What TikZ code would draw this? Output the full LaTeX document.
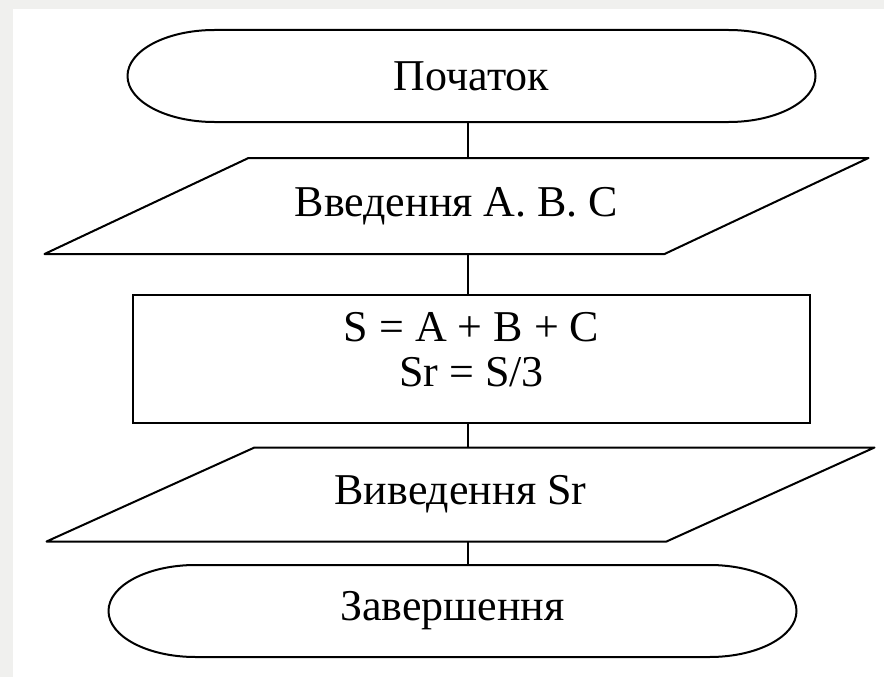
\documentclass[tikz,border=0pt]{standalone}
\usepackage{fontspec}
\setmainfont{Liberation Serif}
\usetikzlibrary{positioning}

\definecolor{pagegray}{HTML}{F0F0EE}

% outline of a start/stop block: straight top and bottom, half-ellipse ends
\newcommand\termoutline[1]{%
  \draw[outline] (#1.north west) -- (#1.north east)
    arc[start angle=90, end angle=-90, x radius=87pt, y radius=46pt]
    -- (#1.south west)
    arc[start angle=270, end angle=90, x radius=87pt, y radius=46pt] -- cycle;}

% outline of an input/output block: top edge pushed right, bottom edge left
\newcommand\iooutline[2]{%
  \draw[outline] ([xshift=#2]#1.north west) -- ([xshift=#2]#1.north east)
    -- ([xshift=-#2]#1.south east) -- ([xshift=-#2]#1.south west) -- cycle;}

\begin{document}
\begin{tikzpicture}[
    x=1pt, y=-1pt,
    outline/.style={draw=black, line width=2pt, line join=round},
    blocktext/.style={font=\fontsize{44}{45}\selectfont},
    terminal/.style={rectangle, blocktext, minimum width=514pt,
        minimum height=92pt, inner sep=0pt, outer sep=0pt},
    iobox/.style={rectangle, blocktext, minimum width=620pt,
        inner sep=0pt, outer sep=0pt},
    procbox/.style={rectangle, blocktext, draw=black, line width=2pt,
        minimum width=677pt, minimum height=128pt, inner sep=0pt,
        outer sep=0pt, align=center, text depth=19pt},
    link/.style={draw=black, line width=2pt}
]
\useasboundingbox (0,0) rectangle (884,677);

% page
\fill[pagegray] (0,0) rectangle (884,677);
\fill[white] (13,9) rectangle (884,677);

% blocks
\node[terminal] (start) at (471.5,76) {Початок};
\node[iobox, minimum height=96pt] (inp) at (456.5,206) {Введення A. B. C};
\node[procbox] (calc) at (471.5,359) {S = A + B + C\\Sr = S/3};
\node[iobox, minimum height=94pt] (outp) at (460.5,494.5) {Виведення Sr};
\node[terminal] (stop) at (452.5,611) {Завершення};

\termoutline{start}
\iooutline{inp}{102pt}
\iooutline{outp}{104pt}
\termoutline{stop}

% flow line
\coordinate (axis) at (468,0);
\draw[link] (start.south -| axis) -- (inp.north -| axis);
\draw[link] (inp.south -| axis) -- (calc.north -| axis);
\draw[link] (calc.south -| axis) -- (outp.north -| axis);
\draw[link] (outp.south -| axis) -- (stop.north -| axis);

\end{tikzpicture}
\end{document}
